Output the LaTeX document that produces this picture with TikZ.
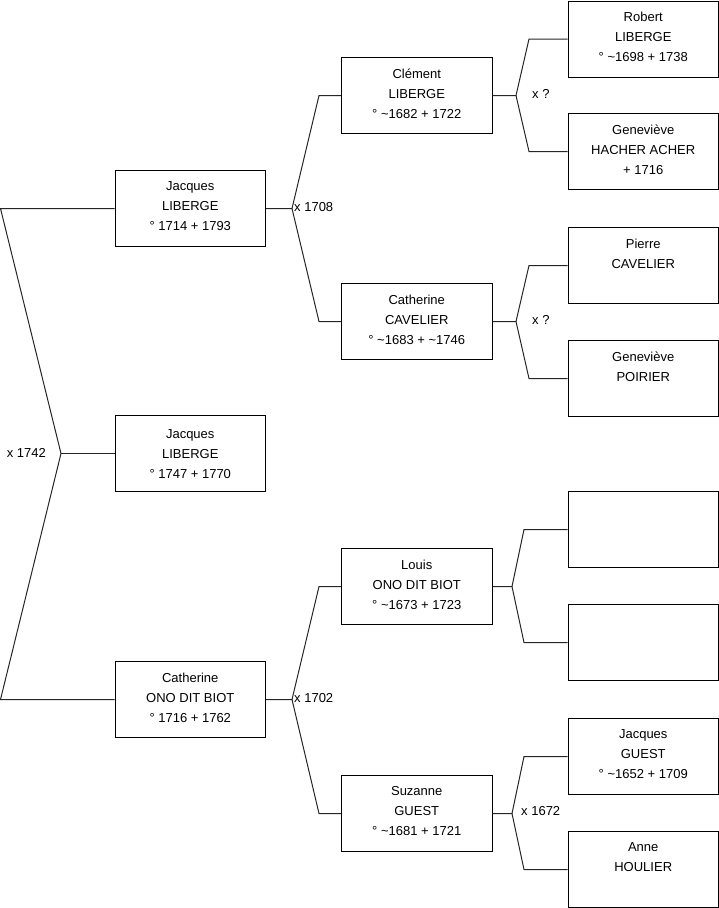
\documentclass[tikz,border=0pt]{standalone}
\usepackage{fontspec}
\setmainfont{Liberation Sans}
\newcommand{\tld}{\textasciitilde}
\begin{document}
\begin{tikzpicture}[x=1pt,y=-1pt,
  box/.style={draw=black, line width=1pt, minimum width=150.5pt, minimum height=76pt, inner sep=0pt, anchor=north west},
  txt/.style={anchor=north, align=center, inner sep=0pt, font=\fontsize{13}{20}\selectfont, yshift=-11.5pt},
  lbl/.style={inner sep=0pt, font=\fontsize{13}{16}\selectfont},
  conn/.style={draw=black!85, line width=1pt}]
\useasboundingbox (0,0) rectangle (719,908);

% generation 1
\node[box] (J1) at (114.5,170) {};
\node[txt] (tJ1) at (J1.north) {Jacques\\LIBERGE\\° 1714 + 1793};
\node[box] (J2) at (114.5,415) {};
\node[txt, yshift=-3pt] (tJ2) at (J2.north) {Jacques\\LIBERGE\\° 1747 + 1770};
\node[box] (J3) at (114.5,661) {};
\node[txt] (tJ3) at (J3.north) {Catherine\\ONO DIT BIOT\\° 1716 + 1762};

% generation 2
\node[box] (C1) at (341,57) {};
\node[txt] (tC1) at (C1.north) {Clément\\LIBERGE\\° \tld1682 + 1722};
\node[box] (C2) at (341,283) {};
\node[txt] (tC2) at (C2.north) {Catherine\\CAVELIER\\° \tld1683 + \tld1746};
\node[box] (C3) at (341,548) {};
\node[txt] (tC3) at (C3.north) {Louis\\ONO DIT BIOT\\° \tld1673 + 1723};
\node[box] (C4) at (341,775) {};
\node[txt] (tC4) at (C4.north) {Suzanne\\GUEST\\° \tld1681 + 1721};

% generation 3
\node[box] (R1) at (567.5,0.5) {};
\node[txt] (tR1) at (R1.north) {Robert\\LIBERGE\\° \tld1698 + 1738};
\node[box] (R2) at (567.5,113) {};
\node[txt] (tR2) at (R2.north) {Geneviève\\HACHER ACHER\\+ 1716};
\node[box] (R3) at (567.5,227) {};
\node[txt] (tR3) at (R3.north) {Pierre\\CAVELIER};
\node[box] (R4) at (567.5,340) {};
\node[txt] (tR4) at (R4.north) {Geneviève\\POIRIER};
\node[box] (R5) at (567.5,491) {};
\node[box] (R6) at (567.5,604) {};
\node[box] (R7) at (567.5,718) {};
\node[txt] (tR7) at (R7.north) {Jacques\\GUEST\\° \tld1652 + 1709};
\node[box] (R8) at (567.5,831) {};
\node[txt] (tR8) at (R8.north) {Anne\\HOULIER};

% left fork
\coordinate (a0) at (J1.west -| 0.5,0);
\coordinate (b0) at (J3.west -| 0.5,0);
\coordinate (v0) at ([xshift=-53.5pt]J2.west);
\draw[conn] (J1.west) -- (a0) -- (v0) -- (b0) -- (J3.west);
\draw[conn] (v0) -- (J2.west);
\node[lbl, anchor=east] (m0) at ([xshift=-15pt,yshift=1pt]v0) {x 1742};

% forks gen1 -> gen2
\coordinate (v1) at ([xshift=26pt]J1.east);
\draw[conn] (J1.east) -- (v1) -- ([xshift=-22pt]C1.west) -- (C1.west);
\draw[conn] (v1) -- ([xshift=-22pt]C2.west) -- (C2.west);
\node[lbl, anchor=west] (m1) at ([xshift=2pt,yshift=1pt]v1) {x 1708};

\coordinate (v2) at ([xshift=26pt]J3.east);
\draw[conn] (J3.east) -- (v2) -- ([xshift=-22pt]C3.west) -- (C3.west);
\draw[conn] (v2) -- ([xshift=-22pt]C4.west) -- (C4.west);
\node[lbl, anchor=west] (m2) at ([xshift=2pt,yshift=1pt]v2) {x 1702};

% forks gen2 -> gen3
\coordinate (v3) at ([xshift=23.5pt]C1.east);
\draw[conn] (C1.east) -- (v3) -- ([xshift=-38.5pt]R1.west) -- (R1.west);
\draw[conn] (v3) -- ([xshift=-38.5pt]R2.west) -- (R2.west);
\node[lbl, anchor=west] (m3) at ([xshift=16pt,yshift=2pt]v3) {x ?};

\coordinate (v4) at ([xshift=23.5pt]C2.east);
\draw[conn] (C2.east) -- (v4) -- ([xshift=-38.5pt]R3.west) -- (R3.west);
\draw[conn] (v4) -- ([xshift=-38.5pt]R4.west) -- (R4.west);
\node[lbl, anchor=west] (m4) at ([xshift=16pt,yshift=2pt]v4) {x ?};

\coordinate (v5) at ([xshift=19.5pt]C3.east);
\draw[conn] (C3.east) -- (v5) -- ([xshift=-43.5pt]R5.west) -- (R5.west);
\draw[conn] (v5) -- ([xshift=-43.5pt]R6.west) -- (R6.west);

\coordinate (v6) at ([xshift=19.5pt]C4.east);
\draw[conn] (C4.east) -- (v6) -- ([xshift=-43.5pt]R7.west) -- (R7.west);
\draw[conn] (v6) -- ([xshift=-43.5pt]R8.west) -- (R8.west);
\node[lbl, anchor=west] (m6) at ([xshift=9pt,yshift=2pt]v6) {x 1672};
\end{tikzpicture}
\end{document}
